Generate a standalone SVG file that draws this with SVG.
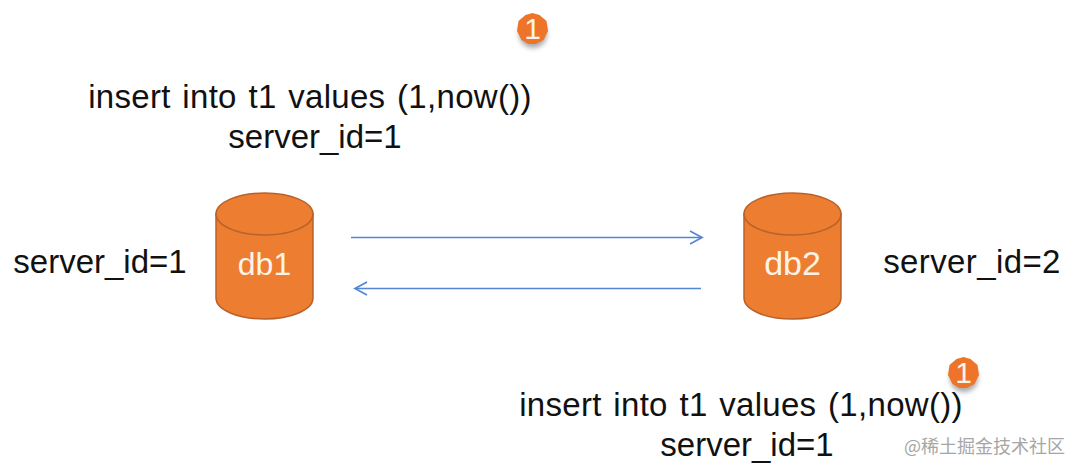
<svg xmlns="http://www.w3.org/2000/svg" width="1080" height="473" viewBox="0 0 1080 473">
<style>
text{font-family:"Liberation Sans",Arial,sans-serif}
.t{font-size:33px;fill:#111;text-anchor:middle}
.w{letter-spacing:.3px;word-spacing:2.200px}
.d{font-size:32px;fill:#fdf3e8;text-anchor:middle}
.c{fill:#ed7d31;stroke:#b8622a;stroke-width:1.500}
.n{font-size:30px;fill:#fdf3e8;text-anchor:middle}
.b{fill:#ed7428}
.e{fill:none;stroke:#5585d5;stroke-width:1.700}
</style>
<defs>
<filter id="s" x="-50%" y="-50%" width="200%" height="200%"><feGaussianBlur stdDeviation="2.500"/></filter>
<marker id="a" markerWidth="16" markerHeight="16" refX="13" refY="7" orient="auto" markerUnits="userSpaceOnUse" viewBox="0 0 16 14"><path d="M1 0.500L13 7L1 13.500" fill="none" stroke="#5585d5" stroke-width="1.700"/></marker>
<polygon id="badge" points="0,-16 7,-14 14,-8 15.500,2 11,11 3,15 -4,15 -11,11 -15.500,2 -14,-8 -7,-14"/>
</defs>
<rect width="1080" height="473" fill="#fff"/>
<g id="connectors">
<path class="e" d="M351 237.500H702" marker-end="url(#a)"/>
<path class="e" d="M701 288.500H355" marker-end="url(#a)"/>
</g>
<g id="db1">
<path class="c" d="M216 214V298C216 310 238 319 264.500 319S313 310 313 298V214Z"/>
<ellipse class="c" cx="264.500" cy="214" rx="48.500" ry="21"/>
<text class="d" x="264.500" y="275">db1</text>
</g>
<g id="db2">
<path class="c" d="M744 214V298C744 310 766 319 792.500 319S841 310 841 298V214Z"/>
<ellipse class="c" cx="792.500" cy="214" rx="48.500" ry="21"/>
<text class="d" x="792.500" y="275" style="font-size:34px">db2</text>
</g>
<g id="label-db1"><text class="t" x="100" y="273">server_id=1</text></g>
<g id="label-db2"><text class="t" x="972" y="273" style="letter-spacing:.4px">server_id=2</text></g>
<g id="top-statement">
<text class="t w" x="310" y="108">insert into t1 values (1,now())</text>
<text class="t" x="315" y="148">server_id=1</text>
</g>
<g id="bottom-statement">
<text class="t w" x="741" y="416">insert into t1 values (1,now())</text>
<text class="t" x="747" y="456">server_id=1</text>
</g>
<g id="badge-top">
<circle cx="533" cy="34" r="14" fill="#555" opacity=".5" filter="url(#s)"/>
<use href="#badge" class="b" x="532.500" y="29"/>
<text class="n" x="532.500" y="39">1</text>
</g>
<g id="badge-bottom">
<circle cx="964" cy="378" r="14" fill="#555" opacity=".5" filter="url(#s)"/>
<use href="#badge" class="b" x="963.500" y="373"/>
<text class="n" x="963.500" y="383">1</text>
</g>
<g id="watermark"><text x="904" y="453" font-size="18" fill="#a6a6a6" style="font-family:'Noto Sans CJK SC','Liberation Sans',sans-serif">@稀土掘金技术社区</text></g>
</svg>
